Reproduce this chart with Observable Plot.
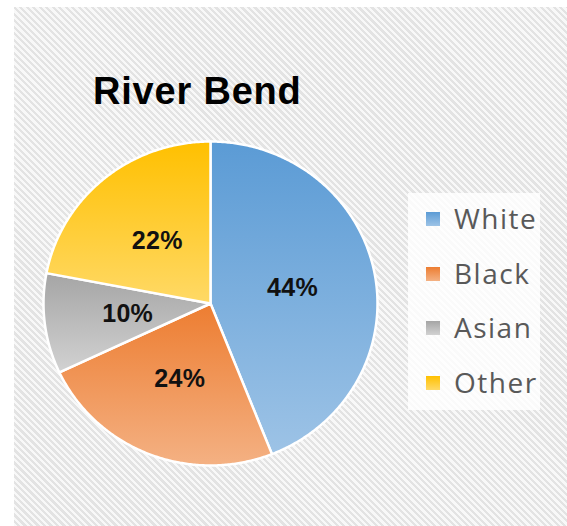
<!DOCTYPE html>
<html>
<head>
<meta charset="utf-8">
<script src="https://cdn.jsdelivr.net/npm/d3@7"></script>
<script src="https://cdn.jsdelivr.net/npm/@observablehq/plot@0.6"></script>
<style>
  html, body { margin: 0; padding: 0; background: #ffffff; }
  #wrap { position: relative; width: 567px; height: 526px; overflow: hidden; background: #ffffff; }
  #panel {
    position: absolute; left: 14px; top: 7px; width: 553px; height: 519px;
    background: repeating-linear-gradient(45deg, #f8f8f8 0px, #f8f8f8 2.3px, #e3e3e3 2.3px, #e3e3e3 4.6px);
  }
  #title {
    position: absolute; left: 93px; top: 72px; margin: 0;
    font-family: "Liberation Sans", Arial, sans-serif; font-weight: bold;
    font-size: 38px; line-height: 38px; letter-spacing: 0.8px; color: #000;
    white-space: nowrap;
  }
  #chart { position: absolute; left: 14px; top: 7px; }
  #legend {
    position: absolute; left: 408px; top: 193px; width: 132px; height: 217px;
    background: rgba(255,255,255,0.82);
  }
  .row {
    position: absolute; left: 0; height: 38px; width: 140px;
    font-family: "Open Sans", sans-serif; font-size: 28px; line-height: 38px;
    color: #595959; letter-spacing: 1.5px; white-space: nowrap;
  }
  .row .sw { position: absolute; left: 18px; top: 13px; width: 14px; height: 14px; }
  .row .lbl { position: absolute; left: 46px; top: 0; }
</style>
</head>
<body>
<div id="wrap">
  <div id="panel"></div>
  <div id="title">River Bend</div>
  <div id="chart"></div>
  <div id="legend"></div>
</div>
<script>
// ---- data ----
const categories = ["White", "Black", "Asian", "Other"];
const shares = [44, 24, 10, 22];
const percentLabels = ["44%", "24%", "10%", "22%"];
const topColors = ["#5b9bd5", "#ed7d31", "#a5a5a5", "#ffc000"];
const bottomColors = ["#9dc3e6", "#f4b183", "#d2d2d2", "#ffd966"];

// ---- geometry from data ----
const arcs = d3.pie().sort(null).value(d => d)(shares);
const slicePoints = [];
const labelPoints = [];
arcs.forEach((a, i) => {
  const cat = categories[i];
  slicePoints.push({cat, x: 0, y: 0});
  const n = Math.max(2, Math.ceil((a.endAngle - a.startAngle) / (Math.PI / 360)));
  for (let k = 0; k <= n; k++) {
    const t = a.startAngle + (a.endAngle - a.startAngle) * k / n;
    slicePoints.push({cat, x: Math.sin(t), y: Math.cos(t)});
  }
  slicePoints.push({cat, x: 0, y: 0});
  const mid = (a.startAngle + a.endAngle) / 2;
  labelPoints.push({cat, text: percentLabels[i], x: 0.5 * Math.sin(mid), y: 0.5 * Math.cos(mid)});
});

const fills = categories.map((c, i) => `url(#grad${i})`);

const chart = Plot.plot({
  width: 553,
  height: 519,
  margin: 0,
  style: {background: "transparent", overflow: "visible"},
  x: {domain: [-1, 1], range: [29, 363], axis: null},
  y: {domain: [-1, 1], range: [458, 134], axis: null},
  color: {domain: categories, range: fills},
  marks: [
    Plot.line(slicePoints, {
      x: "x", y: "y", z: "cat", fill: "cat",
      stroke: "#ffffff", strokeWidth: 2.5, strokeLinejoin: "round", curve: "linear"
    }),
    Plot.text(labelPoints, {
      x: "x", y: "y", text: "text",
      fontSize: 25, fontWeight: "bold", fill: "#111111",
      fontFamily: "Liberation Sans, Arial, sans-serif"
    })
  ]
});

const defs = d3.select(chart).insert("defs", ":first-child");
categories.forEach((c, i) => {
  const g = defs.append("linearGradient")
    .attr("id", `grad${i}`).attr("x1", 0).attr("y1", 0).attr("x2", 0).attr("y2", 1);
  g.append("stop").attr("offset", "0%").attr("stop-color", topColors[i]);
  g.append("stop").attr("offset", "100%").attr("stop-color", bottomColors[i]);
});
d3.select(chart).selectAll("text").style("letter-spacing", "0.3px");

document.getElementById("chart").appendChild(chart);

// ---- legend ----
const legend = document.getElementById("legend");
categories.forEach((c, i) => {
  const row = document.createElement("div");
  row.className = "row";
  row.style.top = (6 + i * 54.7) + "px";
  const sw = document.createElement("div");
  sw.className = "sw";
  sw.style.background = `linear-gradient(${topColors[i]}, ${bottomColors[i]})`;
  const lbl = document.createElement("span");
  lbl.className = "lbl";
  lbl.textContent = c;
  row.appendChild(sw);
  row.appendChild(lbl);
  legend.appendChild(row);
});
</script>
</body>
</html>
